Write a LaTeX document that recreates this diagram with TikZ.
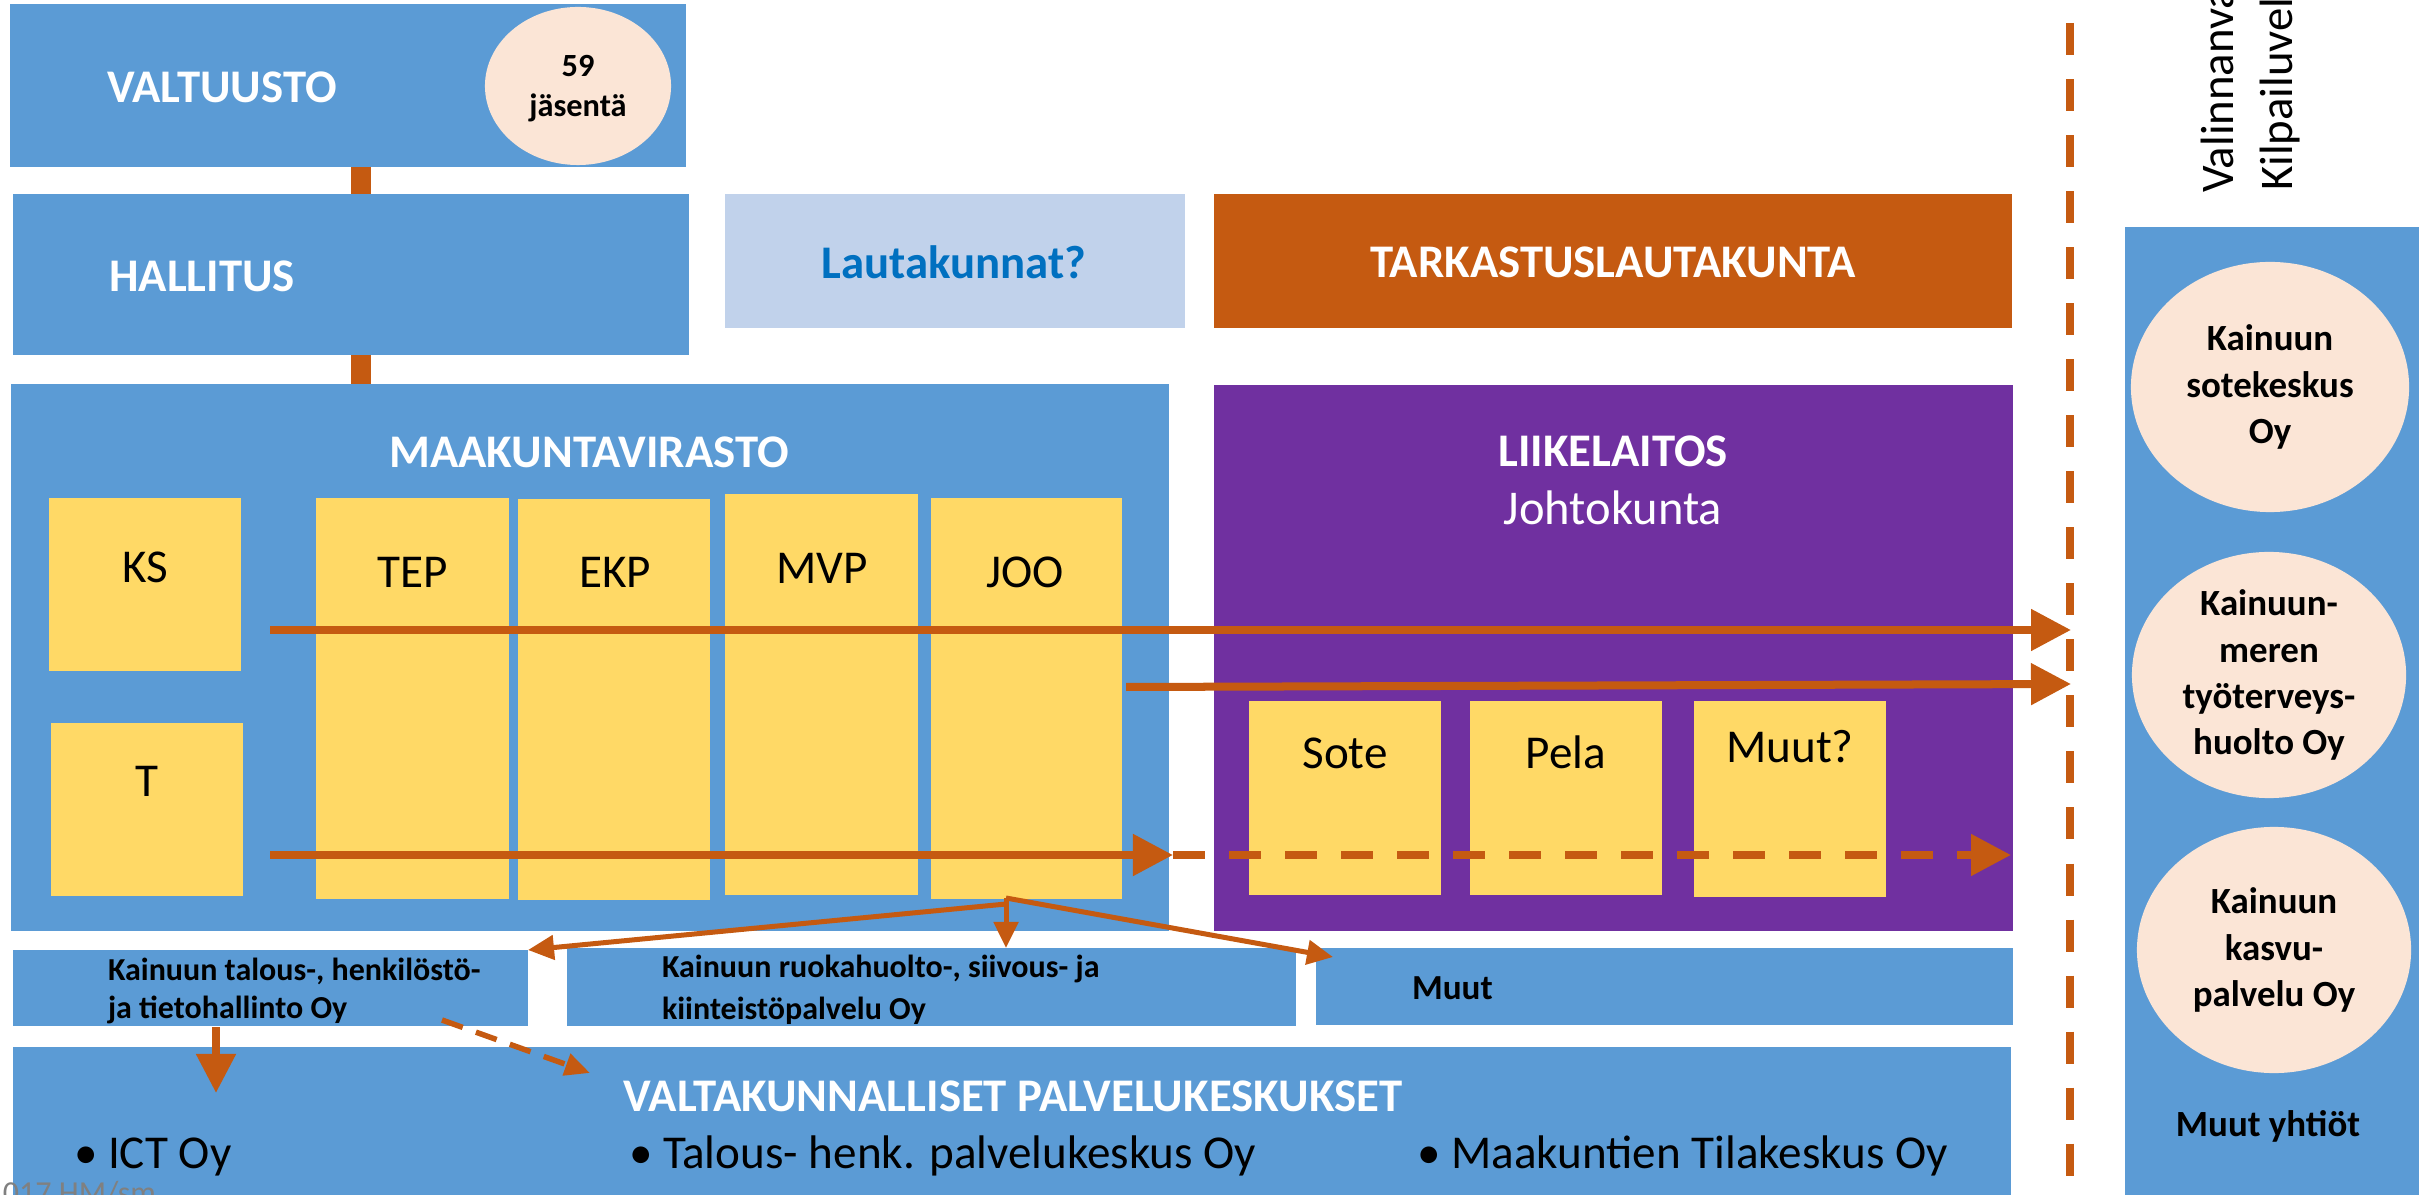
\documentclass[tikz,border=0pt]{standalone}
\usepackage{fontspec}
\setmainfont{Carlito}
\usetikzlibrary{arrows.meta,shapes.geometric,fit}
\definecolor{myblue}{HTML}{5B9BD5}
\definecolor{myyellow}{HTML}{FFD966}
\definecolor{mypurple}{HTML}{7030A0}
\definecolor{myorange}{HTML}{C55A11}
\definecolor{mypeach}{HTML}{FBE5D6}
\definecolor{mylight}{HTML}{C1D2EB}
\definecolor{mytextblue}{HTML}{0070C0}
\begin{document}
\begin{tikzpicture}[x=0.01cm,y=-0.01cm,
  rbox/.style={inner sep=0pt, outer sep=0pt, draw=none},
  bluebox/.style={rbox, fill=myblue},
  yelbox/.style={rbox, fill=myyellow},
  oval/.style={ellipse, fill=mypeach, inner sep=0pt, outer sep=0pt},
  lbl/.style={inner sep=0pt, outer sep=0pt},
  hdr/.style={lbl, text=white, font=\bfseries\fontsize{13.3pt}{16pt}\selectfont},
  yl/.style={lbl, anchor=base, font=\fontsize{13.4pt}{16pt}\selectfont},
  smallb/.style={lbl, anchor=base west, font=\bfseries\fontsize{9.1pt}{11pt}\selectfont},
  elltxt/.style={lbl, align=center, font=\bfseries\fontsize{10.5pt}{13.1pt}\selectfont},
  bullet/.style={lbl, anchor=base west, font=\fontsize{13.4pt}{16pt}\selectfont},
  bar/.style={draw=myorange, line width=0.2cm},
  bigarrow/.style={draw=myorange, line width=0.08cm, -{Triangle[length=0.4cm,width=0.4cm]}},
  fanarrow/.style={draw=myorange, line width=0.05cm, -{Triangle[length=0.26cm,width=0.24cm]}},
  downarrow/.style={draw=myorange, line width=0.08cm, -{Triangle[length=0.39cm,width=0.38cm]}},
  dasharrow/.style={draw=myorange, line width=0.055cm, dash pattern=on 0.22cm off 0.14cm, -{Triangle[length=0.25cm,width=0.22cm]}},
  vdash/.style={draw=myorange, line width=0.08cm, dash pattern=on 0.32cm off 0.24cm},
  hdash/.style={draw=myorange, line width=0.08cm, dash pattern=on 0.315cm off 0.245cm, -{Triangle[length=0.4cm,width=0.4cm]}}
]
\useasboundingbox (0,0) rectangle (2419,1195);
\clip (0,0) rectangle (2419,1195);

% --- top boxes
\node[bluebox, fit={(10,4) (686,167)}] (valt) {};
\node[oval, minimum width=1.86cm, minimum height=1.58cm] (c59) at (578,86) {};
\node[bluebox, fit={(13,194) (689,355)}] (hall) {};
\node[rbox, fill=mylight, fit={(725,194) (1185,328)}] (laut) {};
\node[rbox, fill=myorange, fit={(1214,194) (2012,328)}] (tark) {};

% --- maakuntavirasto
\node[bluebox, fit={(11,384) (1169,931)}] (maak) {};
\node[yelbox, fit={(49,498) (241,671)}] (ks) {};
\node[yelbox, fit={(51,723) (243,896)}] (tt) {};
\node[yelbox, fit={(316,498) (509,899)}] (tep) {};
\node[yelbox, fit={(518,499) (710,900)}] (ekp) {};
\node[yelbox, fit={(725,494) (918,895)}] (mvp) {};
\node[yelbox, fit={(931,498) (1122,899)}] (joo) {};

% --- liikelaitos
\node[rbox, fill=mypurple, fit={(1214,385) (2013,931)}] (liike) {};
\node[yelbox, fit={(1249,701) (1441,895)}] (sote) {};
\node[yelbox, fit={(1470,701) (1662,895)}] (pela) {};
\node[yelbox, fit={(1694,701) (1886,897)}] (muutq) {};

% --- companies row
\node[bluebox, fit={(13,950) (528,1026)}] (talous) {};
\node[bluebox, fit={(567,948) (1296,1026)}] (ruoka) {};
\node[bluebox, fit={(1316,948) (2013,1025)}] (muut) {};
\node[bluebox, fit={(13,1047) (2011,1200)}] (valtak) {};

% --- right panel
\node[bluebox, fit={(2125,227) (2430,1200)}] (panel) {};
\node[oval, minimum width=2.78cm, minimum height=2.5cm] (e1) at (2270,387) {};
\node[oval, minimum width=2.74cm, minimum height=2.46cm] (e2) at (2269,675) {};
\node[oval, minimum width=2.74cm, minimum height=2.46cm] (e3) at (2274,950) {};

% --- connectors
\coordinate (c1) at (361,0);
\draw[bar] (valt.south -| c1) -- (hall.north -| c1);
\draw[bar] (hall.south -| c1) -- (maak.north -| c1);

\coordinate (vtop) at (2070,23);
\coordinate (vbot) at (2070,1195);
\draw[vdash] (vtop) -- (vbot);

\coordinate (a1s) at (270,630);
\coordinate (a1e) at (2071,630);
\coordinate (a2s) at (1126,687);
\coordinate (a2e) at (2071,684);
\coordinate (a3s) at (270,855);
\coordinate (a3m) at (1173,855);
\coordinate (a3e) at (2011,855);
\draw[bigarrow] (a1s) -- (a1e);
\draw[bigarrow] (a2s) -- (a2e);
\draw[hdash] (a3m) -- (a3e);
\draw[bigarrow] (a3s) -- (a3m);

\coordinate (J) at (1006,898);
\coordinate (J2) at (1006,904);
\coordinate (mtip) at (1333,957);
\draw[fanarrow] (J2) -- (talous.north east);
\draw[fanarrow] (J) -- (J |- ruoka.north);
\draw[fanarrow] (J) -- (mtip);

\coordinate (td) at (216,1027);
\coordinate (tdend) at (216,1093);
\draw[downarrow] (td) -- (tdend);
\coordinate (ds) at (442,1020);
\coordinate (de) at (590,1073);
\draw[dasharrow] (ds) -- (de);

% --- texts
\node[hdr] (tvalt) at (222,87) {VALTUUSTO};
\node[lbl, anchor=base, font=\bfseries\fontsize{9.2pt}{11pt}\selectfont] (t59) at (578,77) {59};
\node[lbl, anchor=base, font=\bfseries\fontsize{9.2pt}{11pt}\selectfont] (tjas) at (578,117) {jäsentä};
\node[hdr] (thall) at (202,276) {HALLITUS};
\node[hdr, text=mytextblue] (tlaut) at (954,262) {Lautakunnat?};
\node[hdr] (ttark) at (1613,262) {TARKASTUSLAUTAKUNTA};
\node[hdr] (tmaak) at (589,452) {MAAKUNTAVIRASTO};

\node[yl] (tks) at (145,583) {KS};
\node[yl] (ttt) at (147,796) {T};
\node[yl] (ttep) at (413,588) {TEP};
\node[yl] (tekp) at (615,588) {EKP};
\node[yl] (tmvp) at (822,584) {MVP};
\node[yl] (tjoo) at (1025,588) {JOO};

\node[hdr, anchor=base] (tliike) at (1613,467) {LIIKELAITOS};
\node[lbl, anchor=base, text=white, font=\fontsize{13.8pt}{16pt}\selectfont] (tjohto) at (1613,525) {Johtokunta};
\node[yl] (tsote) at (1345,768) {Sote};
\node[yl] (tpela) at (1566,768) {Pela};
\node[yl] (tmuutq) at (1790,763) {Muut?};

\node[smallb] (tal1) at (108,980) {Kainuun talous-, henkilöstö-};
\node[smallb] (tal2) at (108,1018) {ja tietohallinto Oy};
\node[smallb] (ruo1) at (662,977) {Kainuun ruokahuolto-, siivous- ja};
\node[smallb] (ruo2) at (662,1019) {kiinteistöpalvelu Oy};
\node[lbl, anchor=base west, font=\bfseries\fontsize{10pt}{12pt}\selectfont] (tmuut) at (1412,999) {Muut};

\node[hdr, anchor=base] (tvaltak) at (1013,1111) {VALTAKUNNALLISET PALVELUKESKUKSET};
\node[bullet] (b1) at (74,1168) {• ICT Oy};
\node[bullet] (b2) at (629,1168) {• Talous- henk. palvelukeskus Oy};
\node[bullet] (b3) at (1417,1168) {• Maakuntien Tilakeskus Oy};
\node[lbl, anchor=base east, text=gray, font=\fontsize{9.1pt}{11pt}\selectfont] (tgray) at (156,1203) {017 HM/sm};

\node[elltxt] (te1) at (e1) {Kainuun\\sotekeskus\\Oy};
\node[elltxt] (te2) at (e2) {Kainuun-\\meren\\työterveys-\\huolto Oy};
\node[elltxt] (te3) at (e3) {Kainuun\\kasvu-\\palvelu Oy};
\node[elltxt] (tmy) at (2268,1126) {Muut yhtiöt};

\node[lbl, rotate=90, anchor=base west, font=\fontsize{13.3pt}{16pt}\selectfont] (rv1) at (2233,193) {Valinnanva};
\node[lbl, rotate=90, anchor=base west, font=\fontsize{13.3pt}{16pt}\selectfont] (rv2) at (2292,191) {Kilpailuvel};
\end{tikzpicture}
\end{document}
